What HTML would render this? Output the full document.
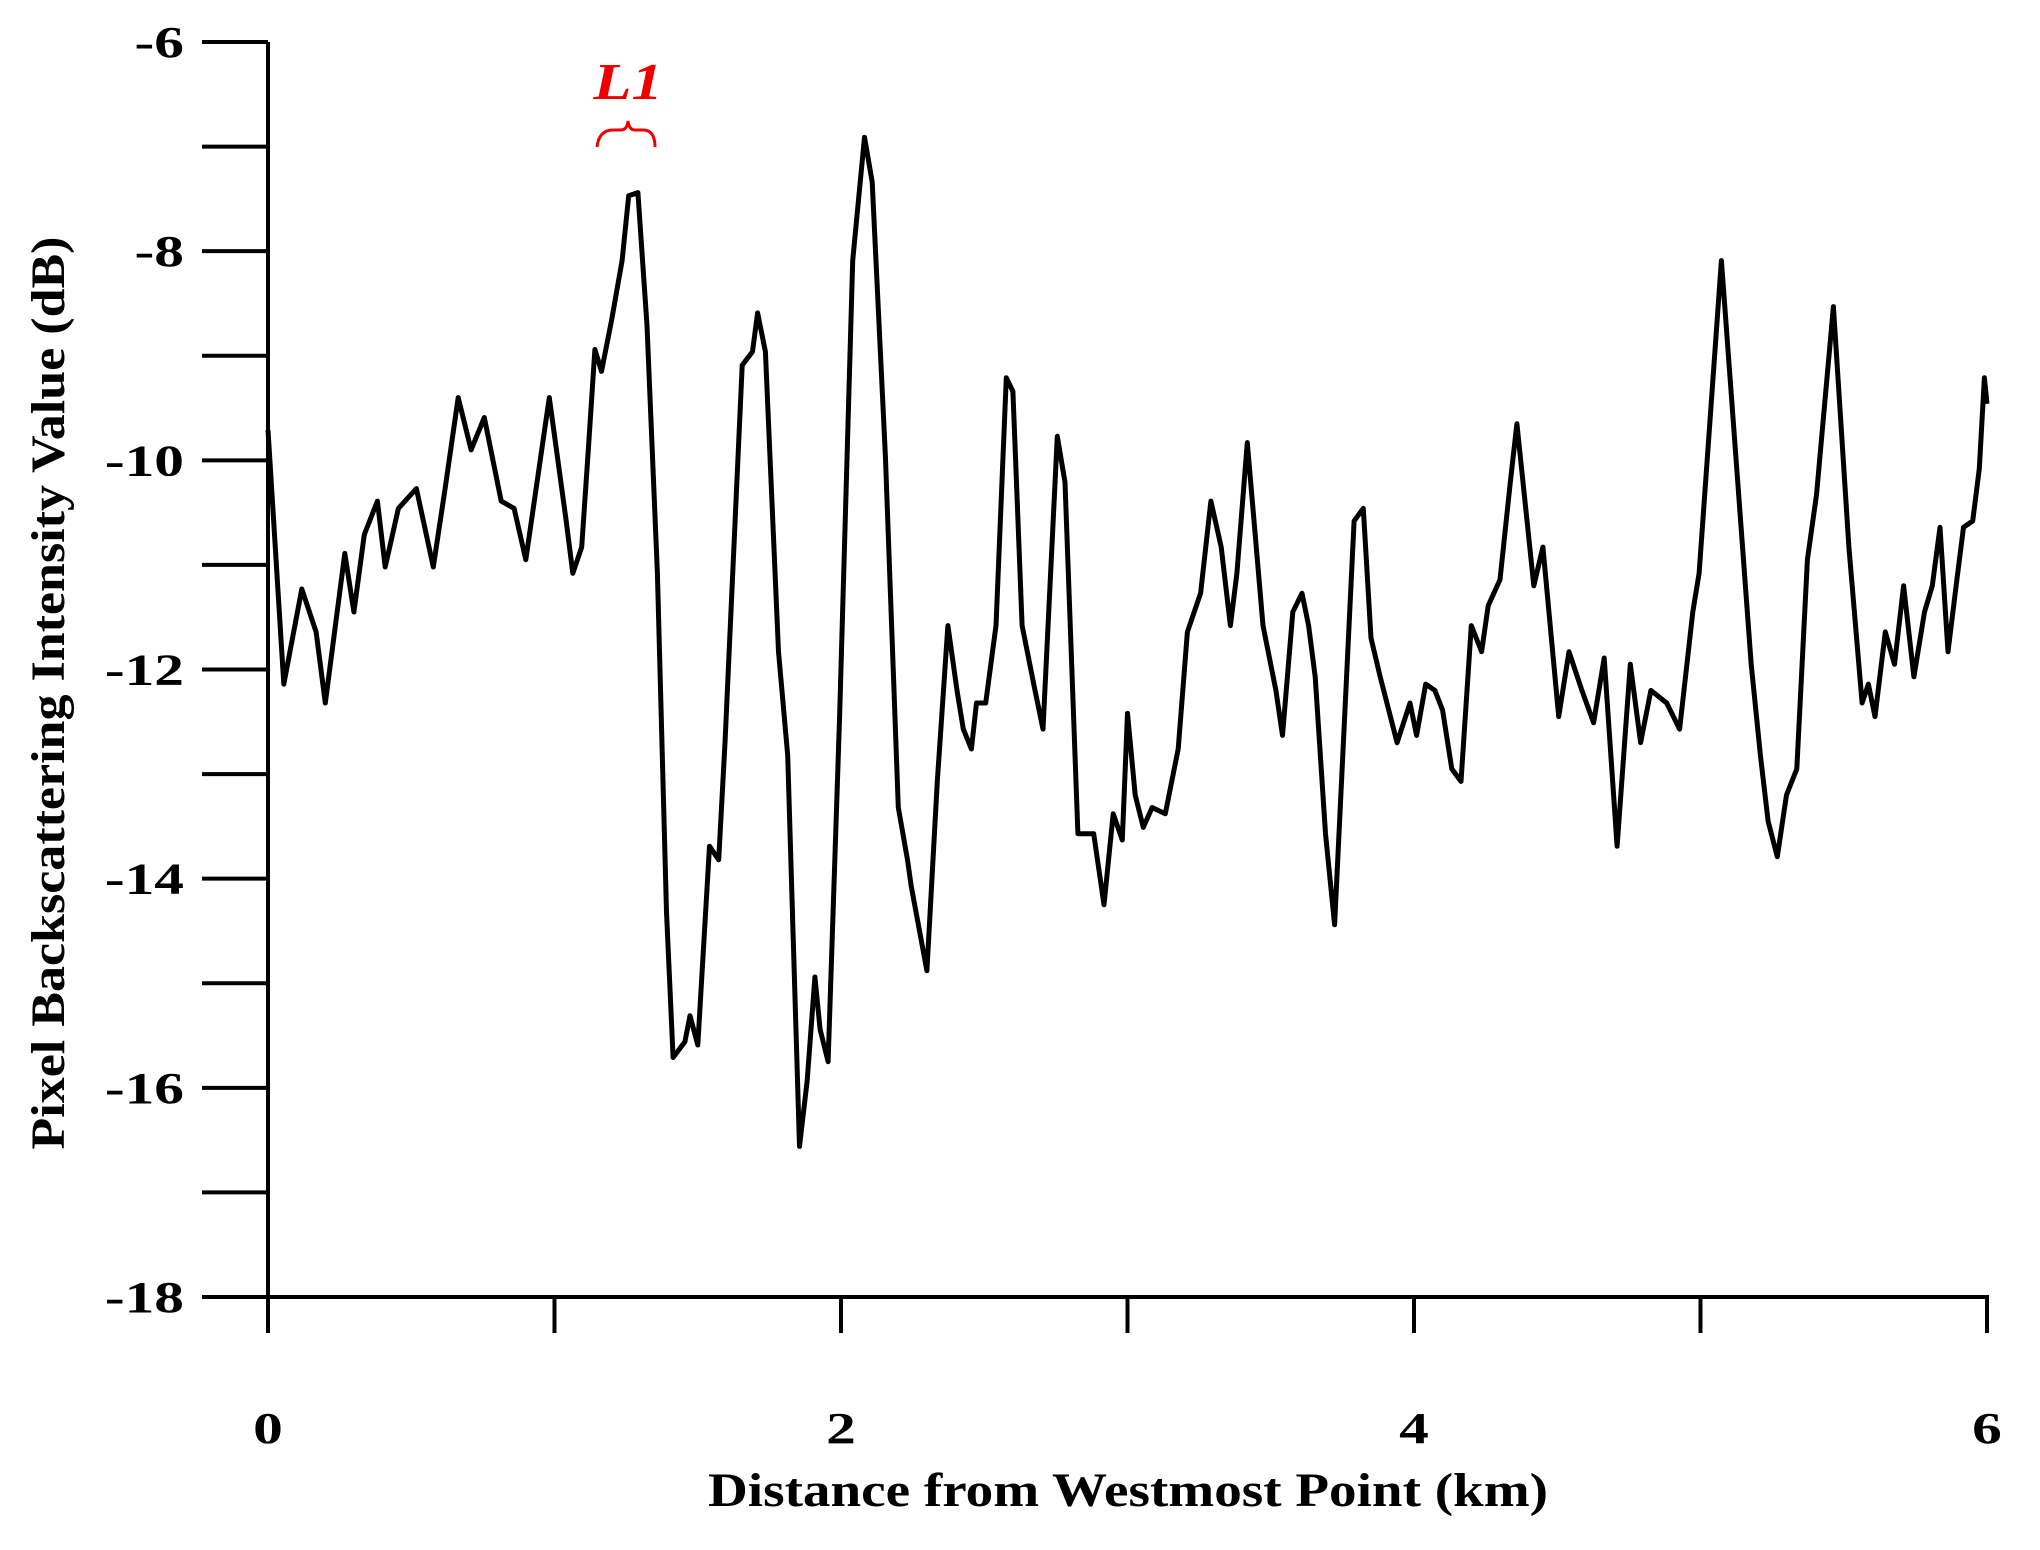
<!DOCTYPE html>
<html><head><meta charset="utf-8"><style>
html,body{margin:0;padding:0;background:#fff;}
svg{display:block;}
text{font-family:"Liberation Serif",serif;font-weight:bold;}
</style></head><body>
<svg id="chart" width="2040" height="1550" viewBox="0 0 2040 1550" xmlns="http://www.w3.org/2000/svg">
<g id="axes"></g>
<path id="series" fill="none" stroke="#000" stroke-width="5" stroke-linejoin="round"/>
<g transform="translate(628,99) scale(1.2,1)"><text x="0" y="0" fill="#e00" font-size="52" font-style="italic" text-anchor="middle">L1</text></g>
<path d="M597,147 Q599,130 613,130 L621,130 Q627,130 628,121 Q629,130 635,130 L643,130 Q655,130 655,147" fill="none" stroke="#e00" stroke-width="3"/>
<text x="1128" y="1506" font-size="48" text-anchor="middle" textLength="840" lengthAdjust="spacingAndGlyphs">Distance from Westmost Point (km)</text>
<text transform="translate(64,693) rotate(-90)" font-size="48" text-anchor="middle" textLength="913" lengthAdjust="spacingAndGlyphs">Pixel Backscattering Intensity Value (dB)</text>
</svg>
<script>
const distanceKm=[0,.055,.118,.168,.2,.268,.3,.336,.382,.409,.455,.518,.577,.618,.664,.709,.755,.814,.859,.9,.982,1.041,1.064,1.095,1.118,1.141,1.164,1.2,1.236,1.259,1.291,1.323,1.359,1.391,1.414,1.455,1.473,1.5,1.541,1.573,1.595,1.655,1.691,1.709,1.736,1.782,1.814,1.855,1.882,1.909,1.927,1.955,1.995,2.041,2.082,2.109,2.155,2.2,2.232,2.245,2.3,2.336,2.373,2.405,2.427,2.455,2.473,2.505,2.541,2.577,2.6,2.632,2.677,2.705,2.755,2.782,2.827,2.882,2.918,2.95,2.982,3.0,3.027,3.055,3.086,3.132,3.177,3.209,3.255,3.291,3.327,3.359,3.382,3.418,3.473,3.518,3.541,3.577,3.609,3.632,3.655,3.691,3.723,3.791,3.823,3.85,3.882,3.941,3.986,4.009,4.041,4.073,4.1,4.132,4.164,4.2,4.236,4.259,4.3,4.336,4.359,4.418,4.45,4.505,4.541,4.586,4.627,4.664,4.709,4.755,4.791,4.827,4.882,4.927,4.973,4.995,5.073,5.177,5.209,5.236,5.268,5.3,5.336,5.373,5.405,5.464,5.518,5.564,5.586,5.609,5.645,5.677,5.709,5.745,5.782,5.809,5.836,5.864,5.895,5.918,5.95,5.973,5.991,6.0];
const intensityDb=[-9.71,-12.14,-11.23,-11.64,-12.32,-10.89,-11.45,-10.71,-10.39,-11.02,-10.46,-10.27,-11.02,-10.27,-9.40,-9.90,-9.59,-10.39,-10.46,-10.95,-9.40,-10.58,-11.08,-10.83,-9.90,-8.94,-9.15,-8.65,-8.09,-7.47,-7.44,-8.71,-11.08,-14.32,-15.71,-15.56,-15.31,-15.59,-13.69,-13.82,-12.70,-9.09,-8.96,-8.59,-8.96,-11.83,-12.82,-16.56,-15.93,-14.94,-15.44,-15.75,-12.45,-8.09,-6.91,-7.34,-9.96,-13.32,-13.82,-14.07,-14.88,-13.07,-11.58,-12.20,-12.57,-12.76,-12.32,-12.32,-11.58,-9.21,-9.34,-11.58,-12.20,-12.57,-9.77,-10.21,-13.57,-13.57,-14.25,-13.38,-13.63,-12.42,-13.20,-13.51,-13.32,-13.38,-12.76,-11.64,-11.27,-10.39,-10.83,-11.58,-11.08,-9.83,-11.58,-12.20,-12.63,-11.45,-11.27,-11.58,-12.07,-13.57,-14.44,-10.58,-10.46,-11.70,-12.07,-12.70,-12.32,-12.63,-12.14,-12.20,-12.39,-12.95,-13.07,-11.58,-11.83,-11.39,-11.14,-10.21,-9.65,-11.20,-10.83,-12.45,-11.83,-12.20,-12.51,-11.89,-13.69,-11.95,-12.70,-12.20,-12.32,-12.57,-11.45,-11.08,-8.09,-11.95,-12.82,-13.45,-13.79,-13.20,-12.95,-10.95,-10.33,-8.53,-10.83,-12.32,-12.14,-12.45,-11.64,-11.95,-11.20,-12.07,-11.45,-11.20,-10.64,-11.83,-11.14,-10.64,-10.58,-10.08,-9.21,-9.46];
const yTickLabels=["-6","-8","-10","-12","-14","-16","-18"];
const yTickValues=[-6,-8,-10,-12,-14,-16,-18];
const xTickLabels=["0","2","4","6"];
const xTickValues=[0,2,4,6];
const NS="http://www.w3.org/2000/svg";
const X0=268,X1=1987,Y0=42,Y1=1297;
function sx(v){return X0+(v-0)/(6-0)*(X1-X0);}
function sy(v){return Y0+(-6-v)/(12)*(Y1-Y0);}
const axes=document.getElementById('axes');
function line(x1,y1,x2,y2,name){const l=document.createElementNS(NS,'line');l.setAttribute('x1',x1);l.setAttribute('y1',y1);l.setAttribute('x2',x2);l.setAttribute('y2',y2);l.setAttribute('stroke','#000');l.setAttribute('stroke-width','4');


axes.appendChild(l);return l;}
function txt(x,y,s,anchor,name){const g=document.createElementNS(NS,'g');g.setAttribute('transform','translate('+x+','+y+') scale(1.35,1)');const t=document.createElementNS(NS,'text');t.setAttribute('x',0);t.setAttribute('y',0);t.setAttribute('font-size','44');t.setAttribute('text-anchor',anchor);t.textContent=s;


g.appendChild(t);axes.appendChild(g);}
line(X0,Y0,X0,Y1+2,'y-axis-line');
line(X0-2,Y1,X1+2,Y1,'x-axis-line');
for(let v=-6;v>=-18;v--){line(X0-66,sy(v),X0,sy(v),'y-tick');}
yTickValues.forEach((v,i)=>txt(184,sy(v)+15,yTickLabels[i],'end','y-tick-label'));
for(let v=0;v<=6;v++){line(sx(v),Y1,sx(v),Y1+36,'x-tick');}
xTickValues.forEach((v,i)=>txt(sx(v),1443,xTickLabels[i],'middle','x-tick-label'));
let d='';
distanceKm.forEach((k,i)=>{d+=(i?'L':'M')+sx(k).toFixed(1)+','+sy(intensityDb[i]).toFixed(1);});
document.getElementById('series').setAttribute('d',d);
</script>
</body></html>
